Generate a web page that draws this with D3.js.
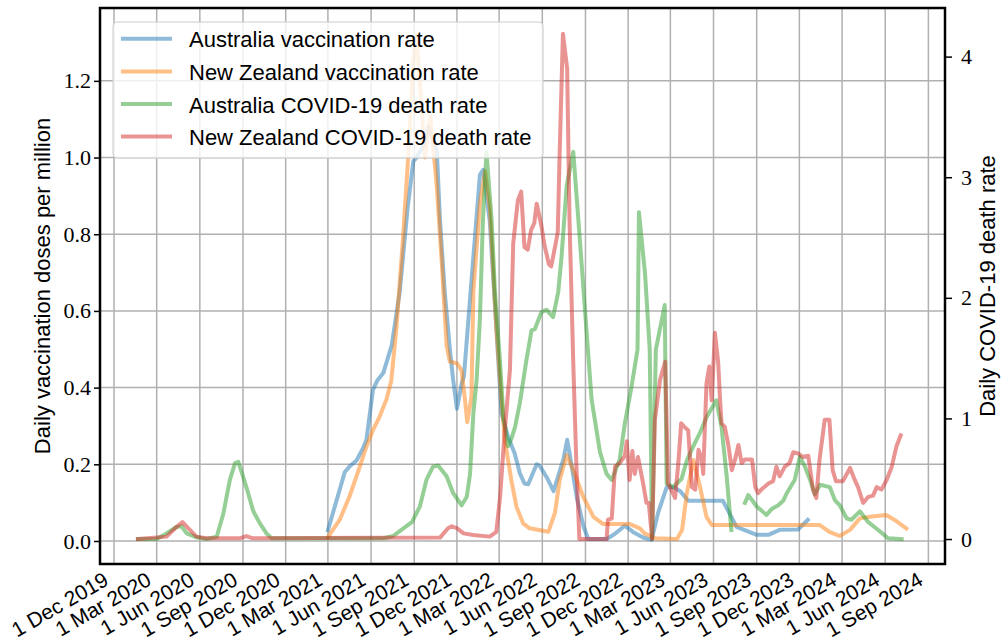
<!DOCTYPE html>
<html>
<head>
<meta charset="utf-8">
<script src="https://cdn.jsdelivr.net/npm/d3@7"></script>
<style>
  body { margin: 0; background: #fff; }
  svg text { font-family: "Liberation Sans", Arial, sans-serif; fill: #000; }
  .num text { font-family: "Liberation Serif", "Times New Roman", serif; }
</style>
</head>
<body>
<div id="chart"></div>
<script>
// values: [date, value]
var ausVacc = [["2021-03-01",0.028],["2021-04-06",0.18],["2021-04-16",0.194],["2021-05-01",0.21],["2021-05-14",0.24],["2021-05-22",0.263],["2021-06-05",0.394],["2021-06-15",0.42],["2021-06-27",0.438],["2021-07-15",0.51],["2021-08-01",0.649],["2021-08-18",0.87],["2021-08-30",0.99],["2021-09-06",1.0],["2021-09-20",1.03],["2021-10-01",1.08],["2021-10-19",1.02],["2021-10-26",0.834],["2021-11-05",0.649],["2021-11-16",0.5],["2021-11-23",0.42],["2021-12-01",0.345],["2021-12-11",0.41],["2021-12-16",0.43],["2022-01-05",0.74],["2022-01-19",0.955],["2022-01-26",0.968],["2022-02-09",0.834],["2022-02-23",0.556],["2022-03-06",0.333],["2022-03-20",0.272],["2022-04-03",0.229],["2022-04-14",0.177],["2022-04-24",0.15],["2022-05-02",0.148],["2022-05-20",0.2],["2022-05-27",0.195],["2022-06-10",0.167],["2022-06-25",0.13],["2022-07-16",0.213],["2022-07-24",0.264],["2022-07-30",0.222],["2022-08-14",0.111],["2022-08-28",0.037],["2022-09-07",0.005],["2022-10-16",0.005],["2022-11-03",0.019],["2022-11-24",0.04],["2022-12-12",0.023],["2023-01-02",0.009],["2023-01-20",0.003],["2023-02-03",0.074],["2023-02-21",0.14],["2023-03-08",0.14],["2023-03-22",0.13],["2023-04-08",0.105],["2023-06-21",0.105],["2023-07-20",0.037],["2023-09-01",0.016],["2023-09-26",0.016],["2023-10-20",0.029],["2023-11-28",0.03],["2023-12-19",0.055]];

var nzVacc = [["2021-03-01",0.01],["2021-03-26",0.055],["2021-04-16",0.116],["2021-05-08",0.194],["2021-05-22",0.246],["2021-06-05",0.289],["2021-06-19",0.324],["2021-07-04",0.37],["2021-07-14",0.417],["2021-07-25",0.556],["2021-08-08",0.788],["2021-08-19",1.0],["2021-08-30",1.25],["2021-09-06",1.32],["2021-09-24",1.0],["2021-10-05",1.11],["2021-10-19",0.927],["2021-10-29",0.74],["2021-11-09",0.51],["2021-11-16",0.468],["2021-12-01",0.463],["2021-12-11",0.445],["2021-12-18",0.37],["2021-12-23",0.31],["2022-01-01",0.376],["2022-01-05",0.65],["2022-01-19",0.88],["2022-01-30",0.964],["2022-02-09",0.87],["2022-02-23",0.556],["2022-03-06",0.37],["2022-03-13",0.263],["2022-03-27",0.159],["2022-04-07",0.089],["2022-04-21",0.046],["2022-05-05",0.033],["2022-06-14",0.024],["2022-06-28",0.074],["2022-07-08",0.159],["2022-07-23",0.224],["2022-08-06",0.185],["2022-08-27",0.116],["2022-09-18",0.063],["2022-10-09",0.044],["2022-12-05",0.044],["2022-12-26",0.033],["2023-01-05",0.02],["2023-01-28",0.007],["2023-03-15",0.005],["2023-03-26",0.029],["2023-04-05",0.124],["2023-04-19",0.211],["2023-05-03",0.142],["2023-05-17",0.063],["2023-05-28",0.042],["2024-01-13",0.042],["2024-02-03",0.024],["2024-02-25",0.013],["2024-03-18",0.029],["2024-04-08",0.059],["2024-04-29",0.063],["2024-06-03",0.068],["2024-06-21",0.055],["2024-07-16",0.033]];

var ausDeath = [["2020-01-21",0],["2020-03-01",0],["2020-03-22",0.047],["2020-04-12",0.1],["2020-04-23",0.105],["2020-05-04",0.047],["2020-05-25",0.014],["2020-06-15",0],["2020-07-07",0.019],["2020-07-21",0.21],["2020-08-04",0.49],["2020-08-15",0.63],["2020-08-22",0.64],["2020-09-01",0.52],["2020-09-12",0.38],["2020-09-23",0.23],["2020-10-07",0.13],["2020-10-21",0.047],["2020-11-01",0.006],["2021-06-27",0.006],["2021-07-18",0.025],["2021-08-09",0.089],["2021-08-27",0.14],["2021-09-13",0.27],["2021-09-27",0.49],["2021-10-11",0.6],["2021-10-22",0.61],["2021-11-09",0.52],["2021-11-23",0.38],["2021-12-11",0.28],["2021-12-22",0.35],["2021-12-29",0.54],["2022-01-05",1.04],["2022-01-12",1.32],["2022-01-19",1.82],["2022-01-25",2.6],["2022-02-02",3.21],["2022-02-13",2.64],["2022-02-20",2.05],["2022-03-03",1.46],["2022-03-10",1.02],["2022-03-20",0.77],["2022-03-27",0.83],["2022-04-04",0.93],["2022-04-14",1.125],["2022-04-28",1.48],["2022-05-09",1.73],["2022-05-16",1.74],["2022-05-30",1.88],["2022-06-10",1.9],["2022-06-24",1.84],["2022-07-05",2.05],["2022-07-12",2.34],["2022-07-23",2.93],["2022-08-06",3.21],["2022-08-17",2.64],["2022-08-31",1.9],["2022-09-14",1.16],["2022-10-02",0.72],["2022-10-16",0.54],["2022-10-27",0.49],["2022-11-13",0.66],["2022-11-24",0.96],["2022-12-08",1.26],["2022-12-21",1.57],["2022-12-24",2.71],["2023-01-06",2.2],["2023-01-16",1.57],["2023-01-21",0],["2023-01-29",1.57],["2023-02-17",1.94],["2023-02-21",0.46],["2023-03-07",0.43],["2023-03-25",0.5],["2023-04-05",0.65],["2023-04-19",0.77],["2023-05-03",0.88],["2023-05-17",1.01],["2023-06-07",1.15],["2023-06-18",0.93],["2023-06-29",0.52],["2023-07-09",0.075],["2023-07-24",null],["2023-08-07",0.3],["2023-08-14",0.365],["2023-09-01",0.27],["2023-09-22",0.2],["2023-10-03",0.25],["2023-10-17",0.28],["2023-10-28",0.32],["2023-11-04",0.38],["2023-11-21",0.49],["2023-12-02",0.68],["2023-12-13",0.6],["2023-12-23",0.5],["2024-01-03",0.37],["2024-01-14",0.45],["2024-02-04",0.43],["2024-02-15",0.32],["2024-02-25",0.28],["2024-03-11",0.17],["2024-03-21",0.16],["2024-04-08",0.23],["2024-04-26",0.14],["2024-05-17",0.075],["2024-06-07",0.006],["2024-07-06",0]];

var nzDeath = [["2020-01-21",0],["2020-03-22",0.02],["2020-04-12",0.1],["2020-04-25",0.14],["2020-05-07",0.09],["2020-05-25",0.02],["2020-06-15",0.006],["2020-08-25",0.006],["2020-09-08",0.025],["2020-09-22",0.006],["2021-10-26",0.012],["2021-11-12",0.09],["2021-11-20",0.105],["2021-12-01",0.09],["2021-12-15",0.047],["2022-01-05",0.033],["2022-02-09",0.02],["2022-02-23",0.06],["2022-03-03",0.35],["2022-03-13",0.9],["2022-03-24",1.4],["2022-03-31",2.45],["2022-04-10",2.81],["2022-04-17",2.88],["2022-04-24",2.42],["2022-05-01",2.4],["2022-05-08",2.56],["2022-05-15",2.62],["2022-05-20",2.78],["2022-05-30",2.6],["2022-06-06",2.43],["2022-06-15",2.28],["2022-06-20",2.26],["2022-07-01",2.48],["2022-07-04",2.55],["2022-07-08",3.2],["2022-07-15",4.19],["2022-07-24",3.9],["2022-07-29",2.64],["2022-08-06",1.46],["2022-08-13",0.57],["2022-08-19",0],["2022-10-16",0],["2022-10-19",0.16],["2022-10-27",0.17],["2022-11-03",0.6],["2022-11-13",0.63],["2022-11-24",0.69],["2022-11-28",0.81],["2022-12-04",0.49],["2022-12-10",0.73],["2022-12-15",0.54],["2022-12-22",0.68],["2023-01-02",0.46],["2023-01-09",0.3],["2023-01-14",0.3],["2023-01-21",0],["2023-01-27",0.99],["2023-02-07",1.32],["2023-02-18",1.47],["2023-02-24",0.46],["2023-03-04",0.4],["2023-03-11",0.34],["2023-03-18",0.63],["2023-03-24",0.96],["2023-03-31",0.93],["2023-04-08",0.9],["2023-04-16",0.43],["2023-04-23",0.41],["2023-04-30",0.74],["2023-05-07",0.66],["2023-05-10",0.54],["2023-05-17",1.29],["2023-05-23",1.43],["2023-05-28",1.15],["2023-06-04",1.71],["2023-06-11",1.46],["2023-06-15",1.15],["2023-06-18",0.96],["2023-06-25",0.93],["2023-07-03",0.77],["2023-07-10",0.57],["2023-07-17",0.66],["2023-07-24",0.78],["2023-07-31",0.63],["2023-08-07",0.66],["2023-08-22",0.66],["2023-08-29",0.43],["2023-09-04",0.38],["2023-09-11",0.41],["2023-09-26",0.46],["2023-10-06",0.48],["2023-10-13",0.6],["2023-10-20",0.52],["2023-10-31",0.6],["2023-11-10",0.63],["2023-11-18",0.72],["2023-11-28",0.71],["2023-12-09",0.68],["2023-12-20",0.69],["2023-12-30",0.41],["2024-01-06",0.34],["2024-01-13",0.66],["2024-01-24",0.99],["2024-02-03",0.99],["2024-02-10",0.57],["2024-02-17",0.48],["2024-03-03",0.48],["2024-03-18",0.59],["2024-03-28",0.49],["2024-04-04",0.43],["2024-04-15",0.3],["2024-04-26",0.35],["2024-05-06",0.36],["2024-05-14",0.43],["2024-05-24",0.41],["2024-06-04",0.49],["2024-06-15",0.6],["2024-06-25",0.77],["2024-07-04",0.86]];

var seriesNames = ["Australia vaccination rate", "New Zealand vaccination rate",
                   "Australia COVID-19 death rate", "New Zealand COVID-19 death rate"];
var seriesColors = ["#1f77b4", "#ff7f0e", "#2ca02c", "#d62728"];
var leftTicks = [0, 0.2, 0.4, 0.6, 0.8, 1.0, 1.2];
var rightTicks = [0, 1, 2, 3, 4];
var leftLabel = "Daily vaccination doses per million";
var rightLabel = "Daily COVID-19 death rate";

var W = 1001, H = 644,
    margin = {top: 8, right: 56, bottom: 80, left: 100},
    width = W - margin.left - margin.right,
    height = H - margin.top - margin.bottom;

var parseDate = d3.timeParse("%Y-%m-%d");
var fmtDate = d3.timeFormat("%-d %b %Y");

var xScale = d3.scaleTime()
    .domain([new Date(2019, 10, 1, 4), new Date(2024, 9, 6, 10)])
    .range([0, width]);
var yLeft = d3.scaleLinear().domain([-0.06, 1.39]).range([height, 0]);
var yRight = d3.scaleLinear().domain([-0.207, 4.403]).range([height, 0]);

// one tick every three months, from 1 Dec 2019
var xTicks = d3.timeMonth.range(new Date(2019, 11, 1), new Date(2024, 9, 1), 3);

var svg = d3.select("#chart").append("svg")
    .attr("width", W)
    .attr("height", H);

var g = svg.append("g")
    .attr("transform", "translate(" + margin.left + "," + margin.top + ")");

// grid
g.append("g").selectAll("line")
    .data(xTicks).enter().append("line")
    .attr("x1", function(d) { return xScale(d); })
    .attr("x2", function(d) { return xScale(d); })
    .attr("y1", 0).attr("y2", height)
    .attr("stroke", "#b0b0b0").attr("stroke-width", 1.5);

g.append("g").selectAll("line")
    .data(leftTicks).enter().append("line")
    .attr("x1", 0).attr("x2", width)
    .attr("y1", function(d) { return yLeft(d); })
    .attr("y2", function(d) { return yLeft(d); })
    .attr("stroke", "#b0b0b0").attr("stroke-width", 1.5);

function toPoints(arr) {
    return arr.map(function(d) { return {date: parseDate(d[0]), value: d[1]}; });
}

function drawLine(arr, yScale, color) {
    var line = d3.line()
        .defined(function(d) { return d.value !== null; })
        .x(function(d) { return xScale(d.date); })
        .y(function(d) { return yScale(d.value); });
    g.append("path")
        .datum(toPoints(arr))
        .attr("fill", "none")
        .attr("stroke", color)
        .attr("stroke-opacity", 0.5)
        .attr("stroke-width", 4)
        .attr("stroke-linejoin", "round")
        .attr("stroke-linecap", "square")
        .attr("d", line);
}

drawLine(ausVacc, yLeft, seriesColors[0]);
drawLine(nzVacc, yLeft, seriesColors[1]);
drawLine(ausDeath, yRight, seriesColors[2]);
drawLine(nzDeath, yRight, seriesColors[3]);

// axes
var xAxis = g.append("g")
    .attr("transform", "translate(0," + height + ")")
    .call(d3.axisBottom(xScale).tickValues(xTicks).tickFormat(fmtDate).tickSize(0));
xAxis.select(".domain").remove();
xAxis.selectAll("text")
    .attr("y", 0).attr("dy", null)
    .attr("text-anchor", "end")
    .attr("transform", "translate(-4.5,20) rotate(-30)")
    .style("font-size", "21px");

var leftAxis = g.append("g").attr("class", "num")
    .call(d3.axisLeft(yLeft).tickValues(leftTicks).tickFormat(d3.format(".1f")).tickSize(6).tickPadding(3));
leftAxis.select(".domain").remove();
leftAxis.selectAll("line").attr("stroke-width", 1.5);
leftAxis.selectAll("text").style("font-size", "22px");

var rightAxis = g.append("g").attr("class", "num")
    .attr("transform", "translate(" + width + ",0)")
    .call(d3.axisRight(yRight).tickValues(rightTicks).tickFormat(d3.format("d")).tickSize(7).tickPadding(9));
rightAxis.select(".domain").remove();
rightAxis.selectAll("line").attr("stroke-width", 1.5);
rightAxis.selectAll("text").style("font-size", "22px");

// frame
g.append("rect")
    .attr("x", 0).attr("y", 0)
    .attr("width", width).attr("height", height)
    .attr("fill", "none").attr("stroke", "#000").attr("stroke-width", 2.5);

// axis labels
svg.append("text")
    .attr("transform", "translate(50," + (margin.top + height / 2) + ") rotate(-90)")
    .attr("text-anchor", "middle")
    .style("font-size", "22px")
    .text(leftLabel);

svg.append("text")
    .attr("transform", "translate(995," + (margin.top + height / 2) + ") rotate(-90)")
    .attr("text-anchor", "middle")
    .style("font-size", "22px")
    .text(rightLabel);

// legend
var legend = svg.append("g").attr("transform", "translate(113,22)");
legend.append("rect")
    .attr("width", 430).attr("height", 136).attr("rx", 4)
    .attr("fill", "#fff").attr("fill-opacity", 0.8)
    .attr("stroke", "#cccccc").attr("stroke-width", 1);

var items = legend.selectAll("g.item")
    .data(seriesNames).enter().append("g")
    .attr("class", "item")
    .attr("transform", function(d, i) { return "translate(0," + (25.3 + i * 32.6) + ")"; });
items.append("line")
    .attr("x1", 8).attr("x2", 59).attr("y1", -8.5).attr("y2", -8.5)
    .attr("stroke", function(d, i) { return seriesColors[i]; })
    .attr("stroke-opacity", 0.5).attr("stroke-width", 4);
items.append("text")
    .attr("x", 76)
    .style("font-size", "22px")
    .text(function(d) { return d; });
</script>
</body>
</html>
